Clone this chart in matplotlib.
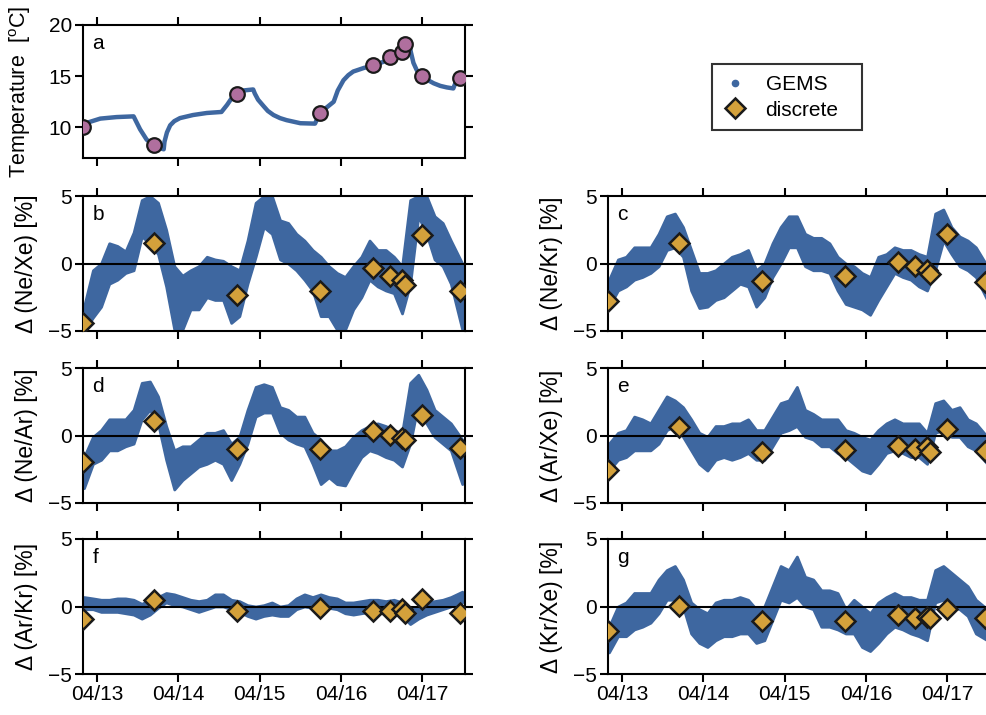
import numpy as np
import matplotlib
matplotlib.use('Agg')
import matplotlib.pyplot as plt
from matplotlib.lines import Line2D

plt.rcParams['font.family'] = ['Liberation Sans', 'DejaVu Sans']
plt.rcParams['mathtext.fontset'] = 'custom'
plt.rcParams['mathtext.rm'] = 'Liberation Sans'

#%% datos (dia de abril)
tick_days = [13, 14, 15, 16, 17]
tick_labels = ['04/13', '04/14', '04/15', '04/16', '04/17']

# temperatura continua
temp_t = [12.83, 12.90, 13.04, 13.24, 13.45, 13.53, 13.61, 13.69, 13.76, 13.82,
          13.83, 13.86, 13.90, 13.95, 14.02, 14.18, 14.35, 14.53, 14.60, 14.66,
          14.72, 14.80, 14.92, 14.94, 14.98, 15.05, 15.10, 15.17, 15.25, 15.33,
          15.50, 15.68, 15.74, 15.91, 15.96, 16.03, 16.09, 16.15, 16.28, 16.40,
          16.52, 16.62, 16.75, 16.81, 16.84, 16.86, 16.89, 16.93, 17.00, 17.07,
          17.14, 17.22, 17.30, 17.38, 17.42, 17.51, 17.55]
temp_v = [10.0, 10.5, 10.85, 11.0, 11.07, 9.8, 8.8, 8.25, 8.0, 7.85,
          8.6, 9.5, 10.2, 10.6, 10.9, 11.2, 11.4, 11.5, 12.2, 12.9,
          13.3, 13.6, 13.7, 13.3, 12.7, 12.05, 11.6, 11.2, 10.9, 10.7,
          10.4, 10.36, 11.4, 12.5, 13.6, 14.6, 15.1, 15.45, 15.8, 16.05,
          16.4, 16.9, 17.5, 18.05, 18.1, 17.3, 16.3, 15.6, 15.0, 14.6,
          14.3, 14.05, 13.9, 13.8, 14.6, 15.2, 15.6]

# muestras discretas
disc_t = [12.83, 13.70, 14.72, 15.74, 16.39, 16.60, 16.75, 16.79, 17.00, 17.46]
disc_temp = [10.0, 8.28, 13.27, 11.43, 16.05, 16.86, 17.4, 18.1, 15.0, 14.85]
disc_b = [-4.4, 1.5, -2.3, -2.0, -0.35, -0.95, -1.2, -1.6, 2.1, -2.05]
disc_c = [-2.75, 1.55, -1.3, -0.95, 0.1, -0.15, -0.5, -0.8, 2.2, -1.35]
disc_d = [-1.95, 1.1, -1.0, -1.0, 0.35, 0.05, -0.15, -0.35, 1.55, -0.9]
disc_e = [-2.55, 0.6, -1.2, -1.1, -0.75, -1.0, -0.85, -1.25, 0.5, -1.15]
disc_f = [-0.95, 0.45, -0.35, -0.1, -0.35, -0.35, -0.2, -0.5, 0.55, -0.5]
disc_g = [-1.8, 0.05, -1.1, -1.1, -0.6, -0.85, -0.8, -0.85, -0.2, -0.85]

# GEMS: rango (min/max) leido cada ~0.1 dia
gems_t = [12.84, 12.95, 13.05, 13.15, 13.25, 13.35, 13.45, 13.55, 13.65, 13.75,
          13.85, 13.95, 14.05, 14.15, 14.25, 14.35, 14.45, 14.55, 14.65, 14.75,
          14.85, 14.95, 15.05, 15.15, 15.25, 15.35, 15.45, 15.55, 15.65, 15.75,
          15.85, 15.95, 16.05, 16.15, 16.25, 16.35, 16.45, 16.55, 16.65, 16.75,
          16.85, 16.95, 17.05, 17.15, 17.25, 17.35, 17.49]
b_hi = [-3.2, -0.5, 0.0, 1.5, 1.3, 0.9, 2.3, 4.7, 5.0, 4.5,
        2.5, -0.2, -0.9, -0.5, -0.2, 0.5, 0.3, 0.2, -0.2, -0.5,
        1.7, 4.5, 5.0, 5.0, 3.2, 3.0, 2.2, 1.7, 1.0, 0.5,
        -0.2, -0.7, -1.0, -0.2, 0.5, 1.7, 1.0, 1.0, 0.5, -0.2,
        4.7, 5.0, 5.0, 3.5, 3.0, 1.7, 0.0]
b_lo = [-5.0, -4.0, -3.2, -1.5, -1.2, -0.7, -0.5, 2.0, 1.5, 0.7,
        -1.7, -4.9, -4.9, -3.4, -3.4, -2.5, -2.7, -2.7, -4.4, -3.9,
        -1.5, 0.5, 2.7, 2.2, 0.3, 0.0, -0.5, -1.2, -2.0, -3.9,
        -3.9, -4.9, -4.9, -3.4, -2.5, -1.2, -1.7, -2.0, -2.2, -3.7,
        -1.5, 3.5, 2.2, 0.3, -0.2, -1.5, -4.9]
c_hi = [-1.2, 0.3, 0.5, 1.2, 1.2, 1.2, 2.2, 3.5, 3.7, 2.7,
        1.0, -0.7, -0.7, -0.5, 0.0, 0.5, 0.7, 1.0, -0.5, 0.0,
        1.5, 2.7, 3.5, 3.5, 2.2, 1.9, 1.9, 1.5, 0.5, 0.0,
        -0.2, -0.7, -1.0, 0.5, 0.7, 1.2, 1.0, 1.0, 0.7, 0.5,
        3.7, 4.0, 2.7, 2.0, 1.7, 1.2, -0.2]
c_lo = [-3.2, -2.0, -1.7, -1.2, -1.0, -0.7, -0.2, 1.0, 1.2, 0.5,
        -2.0, -3.3, -3.2, -2.7, -2.5, -2.0, -1.5, -1.7, -3.2, -2.5,
        -1.0, 0.0, 1.2, 1.2, -0.2, -0.5, -0.5, -0.7, -2.0, -3.0,
        -3.2, -3.4, -3.8, -2.7, -1.7, -0.7, -1.0, -1.2, -1.7, -2.0,
        -0.5, 1.7, 0.7, -0.2, -0.5, -1.0, -2.7]
d_hi = [-1.6, -0.1, 0.4, 1.2, 1.2, 1.2, 1.9, 3.9, 4.0, 2.9,
        0.7, -1.1, -0.8, -0.8, -0.3, 0.2, 0.2, 0.4, -0.6, -0.1,
        1.9, 3.6, 3.8, 3.6, 2.1, 1.9, 1.4, 1.4, 0.2, -0.3,
        -1.1, -1.1, -0.8, -0.1, 0.4, 0.7, 0.9, 0.7, 0.4, 0.2,
        3.9, 4.5, 3.4, 1.9, 1.4, 0.9, -0.3]
d_lo = [-3.9, -2.1, -1.8, -1.1, -1.1, -0.8, -0.6, 1.2, 1.9, 0.9,
        -1.8, -4.0, -3.3, -2.8, -2.3, -2.1, -1.8, -2.1, -3.3, -2.1,
        -0.6, 1.4, 1.7, 1.7, 0.2, -0.3, -0.6, -0.8, -2.1, -3.6,
        -3.1, -3.6, -3.7, -2.6, -1.6, -1.1, -1.3, -1.6, -1.8, -2.3,
        -0.6, 2.4, 0.9, -0.1, -0.6, -1.1, -3.6]
e_hi = [-0.6, 0.2, 0.4, 1.4, 1.2, 0.9, 1.9, 2.9, 2.6, 2.1,
        1.2, 0.2, -0.1, 0.7, 0.7, 0.9, 0.9, 1.2, 0.4, 0.4,
        1.4, 2.4, 2.6, 3.6, 1.9, 1.6, 1.2, 1.2, 1.2, 0.4,
        0.2, -0.1, -0.3, 0.4, 0.9, 1.2, 0.9, 0.9, 0.9, 0.2,
        2.4, 2.6, 1.9, 2.1, 1.2, 0.9, -0.1]
e_lo = [-2.6, -1.8, -1.6, -1.1, -1.1, -1.1, -0.6, 0.4, 0.7, -0.1,
        -1.1, -2.1, -2.6, -1.8, -1.6, -1.8, -1.6, -1.3, -1.8, -1.8,
        -0.8, 0.2, 0.4, 0.7, -0.1, -0.3, -0.8, -0.8, -1.3, -1.6,
        -2.1, -2.6, -2.8, -2.1, -1.3, -1.1, -1.3, -1.6, -1.6, -2.1,
        0.2, 0.4, -0.1, -0.1, -0.8, -1.1, -2.1]
f_hi = [0.7, 0.6, 0.5, 0.5, 0.6, 0.6, 0.5, 0.2, 0.5, 0.7,
        1.0, 0.9, 0.7, 0.5, 0.4, 0.5, 0.9, 0.9, 0.5, 0.4,
        0.1, 0.0, 0.1, 0.3, 0.0, 0.1, 0.6, 0.9, 0.7, 0.9,
        0.7, 0.6, 0.3, 0.3, 0.4, 0.5, 0.5, 0.4, 0.5, 0.3,
        -0.2, 0.0, 0.3, 0.4, 0.5, 0.7, 1.1]
f_lo = [-0.2, -0.2, -0.4, -0.4, -0.4, -0.5, -0.6, -0.9, -0.6, -0.1,
        0.3, 0.1, 0.0, -0.2, -0.4, -0.2, 0.0, 0.0, -0.2, -0.4,
        -0.7, -0.9, -0.7, -0.6, -0.7, -0.7, -0.2, 0.0, -0.1, 0.0,
        -0.1, -0.2, -0.5, -0.6, -0.5, -0.4, -0.5, -0.5, -0.5, -0.7,
        -1.3, -0.9, -0.6, -0.4, -0.2, 0.0, 0.3]
g_hi = [-1.5, 0.0, 0.3, 1.0, 1.0, 1.0, 2.0, 2.7, 3.0, 2.0,
        0.3, -0.2, -0.5, 0.3, 0.5, 0.5, 0.7, 0.5, -0.2, 0.0,
        1.5, 3.0, 2.7, 3.7, 2.2, 2.0, 1.2, 1.2, 1.0, -0.2,
        0.5, 0.0, -0.5, 0.3, 0.7, 1.0, 0.7, 0.7, 0.5, 0.5,
        2.7, 3.0, 2.5, 2.0, 1.5, 0.5, -0.2]
g_lo = [-3.4, -2.2, -2.2, -1.7, -1.5, -1.2, -0.5, 0.5, 0.5, 0.0,
        -2.0, -2.7, -3.0, -2.5, -2.2, -2.2, -2.0, -2.0, -2.7, -2.5,
        -1.0, 0.5, 0.3, 0.7, 0.0, -0.2, -1.5, -1.5, -1.7, -2.0,
        -2.0, -3.0, -3.3, -2.7, -2.0, -1.5, -1.7, -2.0, -2.2, -2.5,
        0.3, 0.5, 0.0, -0.2, -0.7, -2.0, -2.5]

#%% estilo
azul = '#3E67A0'
morado = '#B06F9E'
oro = '#D4A13B'
fs = 15        # numeros, letras, leyenda
fs_lab = 16.5  # etiquetas de ejes
xlim = (12.828, 17.524)

fig = plt.figure(figsize=(9.87, 7.15), dpi=100)
W, H = 987.0, 715.0

def ejes(x0, y0, y1):
    # posicion en pixeles -> fraccion de figura
    return fig.add_axes([x0 / W, 1 - y1 / H, 382 / W, (y1 - y0) / H])

def estilo(ax, con_fechas):
    for s in ax.spines.values():
        s.set_linewidth(1.5)
    ax.tick_params(direction='out', length=6, width=1.5, top=True, right=True,
                   labelsize=fs, pad=2)
    ax.set_xlim(xlim)
    ax.set_xticks(tick_days)
    if con_fechas:
        ax.set_xticklabels(tick_labels)
    else:
        ax.set_xticklabels([])

# panel a
axa = ejes(83, 25, 158)
axa.plot(temp_t, temp_v, color=azul, lw=3.2, solid_capstyle='butt', zorder=2)
axa.plot(disc_t, disc_temp, 'o', ms=10.5, mfc=morado, mec='#1a1a1a', mew=1.6, zorder=3)
axa.set_ylim(7, 20)
axa.set_yticks([10, 15, 20])
estilo(axa, False)
axa.set_ylabel(r'Temperature  [$^{\mathrm{o}}$C]', fontsize=15.5)
axa.yaxis.set_label_coords(-0.13, 0.5)
axa.text(0.025, 0.93, 'a', transform=axa.transAxes, fontsize=fs, va='top')

paneles = [
    ('b', 83, 196, 331, b_lo, b_hi, disc_b, 'Δ (Ne/Xe) [%]', False),
    ('c', 608, 196, 331, c_lo, c_hi, disc_c, 'Δ (Ne/Kr) [%]', False),
    ('d', 83, 368, 503, d_lo, d_hi, disc_d, 'Δ (Ne/Ar) [%]', False),
    ('e', 608, 368, 503, e_lo, e_hi, disc_e, 'Δ (Ar/Xe) [%]', False),
    ('f', 83, 539, 674, f_lo, f_hi, disc_f, 'Δ (Ar/Kr) [%]', True),
    ('g', 608, 539, 674, g_lo, g_hi, disc_g, 'Δ (Kr/Xe) [%]', True),
]

for letra, x0, y0, y1, lo, hi, disc, etiqueta, fechas in paneles:
    ax = ejes(x0, y0, y1)
    ax.fill_between(gems_t, lo, hi, color=azul, lw=2.0, edgecolor=azul, zorder=1)
    ax.axhline(0, color='k', lw=1.5, zorder=2)
    ax.plot(disc_t, disc, 'D', ms=10, mfc=oro, mec='#1a1a1a', mew=1.8, zorder=3)
    ax.set_ylim(-5, 5)
    ax.set_yticks([-5, 0, 5])
    estilo(ax, fechas)
    ax.set_ylabel(etiqueta, fontsize=fs_lab)
    ax.yaxis.set_label_coords(-0.118, 0.5)
    ax.text(0.025, 0.93, letra, transform=ax.transAxes, fontsize=fs, va='top')

# leyenda
h_gems = Line2D([], [], ls='none', marker='o', ms=4.5, color=azul)
h_disc = Line2D([], [], ls='none', marker='D', ms=10, mfc=oro, mec='#1a1a1a', mew=1.8)
leg = fig.legend([h_gems, h_disc], ['GEMS', 'discrete'], loc='upper left',
                 bbox_to_anchor=(712 / W, 1 - 133 / H, 150 / W, 69 / H),
                 mode='expand', borderaxespad=0,
                 fontsize=fs, frameon=True, fancybox=False, handlelength=1.2,
                 handletextpad=0.85, labelspacing=0.32, borderpad=0.52)
leg.get_frame().set_edgecolor('k')
leg.get_frame().set_linewidth(1.5)

fig.savefig('out.png', dpi=100)
